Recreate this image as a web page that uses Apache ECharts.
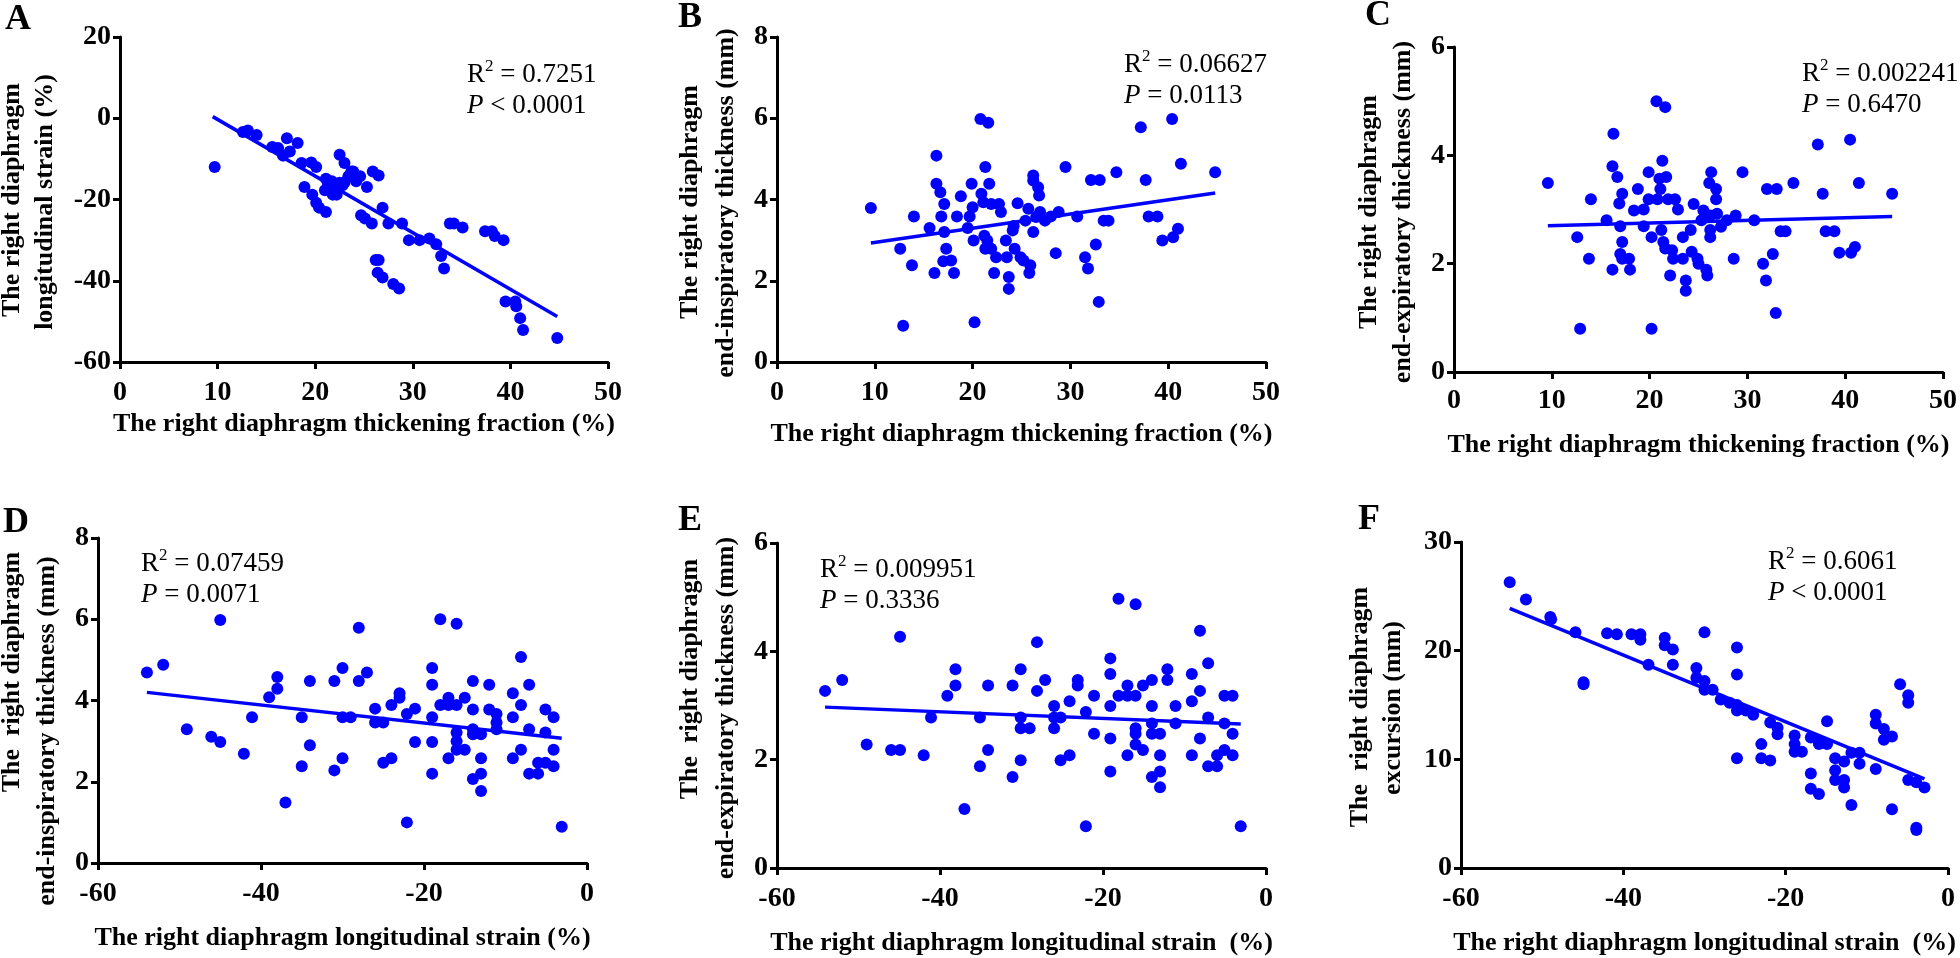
<!DOCTYPE html>
<html>
<head>
<meta charset="utf-8">
<script src="https://cdn.jsdelivr.net/npm/echarts@6/dist/echarts.min.js"></script>
<style>
html,body{margin:0;padding:0;background:#fff;}
#chart{width:1960px;height:958px;}
</style>
</head>
<body>
<div id="chart"></div>
<script>
// ---- Data ----
// Panel A: thickening fraction (%) vs longitudinal strain (%)
const ptsA = [[9.7,-12.0],[12.6,-3.4],[13.1,-3.0],[14.0,-4.1],[15.6,-7.1],[16.2,-7.3],[16.7,-9.2],[17.1,-4.9],[17.4,-8.2],[18.2,-6.1],[18.6,-11.0],[19.6,-10.9],[20.1,-12.0],[18.9,-16.9],[19.7,-18.8],[20.1,-20.8],[20.4,-22.0],[21.1,-23.1],[21.1,-14.9],[21.0,-17.7],[21.5,-16.7],[21.8,-18.8],[22.2,-18.8],[22.5,-15.9],[23.0,-15.8],[23.4,-14.3],[23.9,-13.1],[24.6,-14.3],[25.3,-16.9],[22.5,-9.0],[23.0,-11.0],[23.7,-13.1],[25.9,-13.1],[26.5,-14.1],[26.9,-22.0],[24.7,-23.9],[25.1,-24.7],[25.8,-25.9],[27.5,-25.9],[28.9,-25.9],[29.6,-30.0],[30.7,-30.0],[31.7,-29.6],[32.4,-31.0],[32.9,-33.9],[33.2,-37.0],[33.8,-25.9],[34.2,-25.9],[35.1,-26.9],[37.4,-27.8],[38.1,-27.8],[38.4,-29.0],[39.3,-30.0],[26.2,-34.9],[26.5,-34.9],[26.4,-38.0],[26.9,-39.2],[28.0,-40.8],[28.6,-41.9],[39.5,-45.1],[40.5,-45.1],[40.6,-46.3],[41.0,-49.2],[41.3,-52.1],[44.8,-54.1],[21.3,-16.0],[22.0,-17.5],[21.7,-15.5],[22.8,-16.5],[24.2,-15.5]];
const fitA = [[9.5,0.4],[44.8,-48.8]];

// Panel B: thickening fraction (%) vs end-inspiratory thickness (mm)
const ptsB = [[9.6,3.79],[12.6,2.79],[12.9,0.89],[13.8,2.38],[14.0,3.58],[15.6,3.30],[16.1,2.19],[16.3,5.08],[16.3,4.39],[16.7,4.18],[16.8,3.58],[17.1,3.89],[17.1,3.20],[17.3,2.79],[17.0,2.48],[17.8,2.50],[18.1,2.19],[18.4,3.58],[18.8,4.08],[19.5,3.30],[19.7,3.58],[19.9,4.39],[20.0,3.81],[20.1,2.99],[20.2,0.98],[20.8,5.98],[21.6,5.89],[20.9,4.14],[21.1,3.93],[21.3,4.80],[21.7,4.39],[21.2,3.11],[21.5,2.99],[21.3,2.79],[21.9,2.79],[22.2,2.19],[22.4,2.58],[21.9,3.89],[22.7,3.89],[22.9,3.69],[23.4,2.99],[23.5,2.58],[23.7,2.09],[23.7,1.80],[24.1,3.24],[24.3,2.79],[24.6,3.91],[24.9,2.58],[25.2,2.50],[25.4,3.48],[25.7,3.77],[25.9,2.38],[25.8,2.19],[26.2,4.59],[26.2,4.47],[26.2,3.20],[26.7,4.30],[26.8,4.10],[26.5,3.57],[26.9,3.69],[27.4,3.48],[28.0,3.58],[28.5,2.68],[28.8,3.69],[29.5,4.80],[30.7,3.58],[31.5,2.58],[31.8,2.30],[32.1,4.48],[33.0,4.48],[32.6,2.89],[32.9,1.48],[33.4,3.48],[33.9,3.48],[34.7,4.67],[37.2,5.78],[37.7,4.48],[38.0,3.58],[38.9,3.58],[39.4,2.99],[40.4,5.98],[40.5,3.07],[41.0,3.28],[41.3,4.88],[44.8,4.67],[24.2,3.35]];
const fitB = [[9.6,2.93],[44.8,4.16]];

// Panel C: thickening fraction (%) vs end-expiratory thickness (mm)
const ptsC = [[9.6,3.49],[12.6,2.49],[12.9,0.80],[13.8,2.09],[14.0,3.19],[15.6,2.80],[16.2,1.89],[16.3,4.40],[16.2,3.80],[16.7,3.60],[17.0,2.69],[17.2,3.29],[16.9,3.11],[17.2,2.40],[17.0,2.18],[17.2,2.09],[17.9,2.09],[18.0,1.89],[18.4,2.98],[18.8,3.38],[19.4,3.00],[19.4,2.69],[19.9,3.69],[19.9,3.19],[20.2,2.49],[20.2,0.80],[20.7,5.00],[21.6,4.89],[21.3,3.90],[21.0,3.57],[21.1,3.38],[20.8,3.19],[21.2,2.62],[21.7,3.60],[21.4,2.40],[21.6,2.28],[21.9,3.19],[22.1,1.78],[22.3,2.25],[22.4,2.09],[22.6,3.19],[22.9,3.00],[23.4,2.49],[23.4,2.09],[23.7,1.69],[23.7,1.50],[24.2,2.62],[24.3,2.22],[24.5,3.10],[24.9,2.09],[25.0,2.00],[25.3,2.80],[25.5,2.98],[25.8,1.89],[25.9,1.78],[26.1,3.49],[26.3,3.69],[26.2,2.89],[26.2,2.49],[26.2,2.62],[26.8,3.38],[26.8,3.19],[26.9,2.92],[27.3,2.68],[27.9,2.80],[28.6,2.09],[28.8,2.89],[29.5,3.69],[30.7,2.80],[31.6,2.00],[31.9,1.69],[32.6,2.18],[32.0,3.38],[33.0,3.38],[32.9,1.09],[33.4,2.60],[33.9,2.60],[34.7,3.49],[37.2,4.20],[37.7,3.29],[38.0,2.60],[38.9,2.60],[39.4,2.20],[40.5,4.29],[40.6,2.20],[41.0,2.31],[41.4,3.49],[44.8,3.29]];
const fitC = [[9.6,2.70],[44.8,2.87]];

// Panel D: longitudinal strain (%) vs end-inspiratory thickness (mm)
const ptsD = [[-54.0,4.69],[-52.0,4.88],[-49.1,3.29],[-46.1,3.11],[-45.0,5.98],[-45.0,2.98],[-42.1,2.69],[-41.1,3.59],[-39.0,4.08],[-38.0,4.29],[-38.0,4.58],[-37.0,1.49],[-35.0,3.59],[-35.0,2.38],[-34.0,4.48],[-34.0,2.90],[-31.0,4.48],[-31.0,2.28],[-30.0,4.80],[-30.0,3.59],[-30.0,2.58],[-29.0,3.59],[-28.0,5.79],[-28.0,4.48],[-27.0,4.69],[-26.0,3.80],[-26.0,3.46],[-25.0,3.46],[-25.0,2.47],[-24.0,3.89],[-24.0,2.58],[-23.0,4.18],[-23.0,4.07],[-22.1,3.67],[-22.1,1.00],[-21.1,3.80],[-21.1,2.98],[-19.0,4.80],[-19.0,4.39],[-19.0,3.59],[-19.0,2.98],[-19.0,2.20],[-18.0,6.00],[-18.0,3.89],[-17.0,4.07],[-17.0,3.89],[-17.0,2.58],[-16.0,5.89],[-16.0,3.89],[-16.0,3.21],[-16.0,3.00],[-16.0,2.79],[-15.0,4.07],[-15.0,2.79],[-14.0,4.48],[-14.0,3.78],[-14.0,3.29],[-14.0,3.17],[-14.0,2.07],[-13.0,3.17],[-13.0,2.58],[-13.0,2.20],[-13.0,1.77],[-12.0,4.39],[-12.0,3.78],[-11.1,3.67],[-11.1,3.46],[-11.1,3.29],[-9.1,4.18],[-9.1,3.59],[-9.1,2.58],[-8.1,5.07],[-8.1,3.89],[-8.1,2.79],[-7.1,4.39],[-7.1,3.29],[-7.1,2.20],[-6.0,2.20],[-6.0,2.47],[-5.1,3.78],[-5.1,3.21],[-5.1,2.47],[-4.1,3.59],[-4.1,2.79],[-4.1,2.38],[-3.1,0.89]];
const fitD = [[-54.0,4.20],[-3.1,3.07]];

// Panel E: longitudinal strain (%) vs end-expiratory thickness (mm)
const ptsE = [[-54.1,3.27],[-52.0,3.47],[-49.0,2.28],[-46.0,2.18],[-44.9,2.18],[-44.9,4.27],[-42.0,2.08],[-41.1,2.78],[-39.1,3.18],[-38.1,3.37],[-38.1,3.67],[-37.0,1.09],[-35.1,2.78],[-35.1,1.88],[-34.1,3.37],[-34.1,2.18],[-31.1,1.68],[-31.1,3.37],[-30.1,3.67],[-30.1,2.78],[-30.1,2.58],[-30.1,1.99],[-29.0,2.58],[-28.1,4.17],[-28.1,3.27],[-27.1,3.47],[-26.0,2.99],[-26.0,2.78],[-26.0,2.58],[-25.2,2.78],[-25.2,1.99],[-24.1,3.08],[-24.1,2.08],[-23.1,3.47],[-23.1,3.37],[-22.1,2.88],[-22.1,0.77],[-21.1,3.18],[-21.1,2.48],[-19.1,3.87],[-19.1,3.58],[-19.1,2.99],[-19.1,2.39],[-19.1,1.78],[-18.1,4.97],[-18.1,3.18],[-17.0,3.37],[-17.0,3.18],[-17.0,2.08],[-16.0,4.87],[-16.0,3.18],[-16.0,2.58],[-16.0,2.48],[-16.0,2.28],[-15.1,3.37],[-15.1,2.18],[-14.0,3.47],[-14.0,2.99],[-14.0,2.67],[-14.0,2.48],[-14.0,1.68],[-13.0,2.48],[-13.0,2.08],[-13.0,1.78],[-13.0,1.49],[-12.1,3.67],[-12.1,3.47],[-11.1,2.99],[-11.1,2.67],[-9.1,3.58],[-9.1,3.08],[-9.1,2.08],[-8.1,4.38],[-8.1,3.27],[-8.1,2.39],[-7.1,3.78],[-7.1,2.78],[-7.1,1.88],[-6.0,1.88],[-6.0,2.08],[-5.1,3.18],[-5.1,2.67],[-5.1,2.18],[-4.1,3.18],[-4.1,2.48],[-4.1,2.08],[-3.1,0.77]];
const fitE = [[-54.1,2.97],[-3.1,2.66]];

// Panel F: longitudinal strain (%) vs excursion (mm)
const ptsF = [[-54.0,26.3],[-52.0,24.7],[-49.0,23.1],[-48.9,22.9],[-45.9,21.7],[-44.9,16.9],[-44.9,17.1],[-42.0,21.6],[-40.8,21.5],[-39.0,21.5],[-37.9,21.5],[-37.9,21.0],[-36.9,18.7],[-34.9,21.2],[-34.9,20.5],[-33.9,20.1],[-33.9,18.7],[-31.0,18.4],[-31.0,17.5],[-30.0,21.7],[-30.0,17.2],[-30.0,16.4],[-29.0,16.4],[-28.0,15.5],[-26.9,15.2],[-26.0,20.3],[-26.0,17.8],[-26.0,15.0],[-26.0,14.5],[-26.0,10.1],[-24.9,14.5],[-24.0,14.1],[-23.0,11.4],[-23.0,10.1],[-21.9,13.4],[-21.9,9.9],[-21.0,12.9],[-21.0,12.3],[-18.9,12.2],[-18.9,11.4],[-18.9,10.7],[-18.0,10.7],[-16.9,12.0],[-16.9,8.7],[-16.9,7.3],[-15.9,11.7],[-15.9,11.4],[-15.9,6.8],[-14.9,13.5],[-14.9,11.4],[-13.9,10.1],[-13.9,9.0],[-13.9,8.1],[-12.8,9.8],[-12.8,8.1],[-12.8,7.4],[-11.9,10.6],[-11.9,5.8],[-10.9,10.6],[-10.9,9.6],[-8.9,14.1],[-8.9,13.3],[-8.9,9.1],[-7.9,12.8],[-7.9,11.8],[-6.9,12.1],[-6.9,5.4],[-5.9,16.9],[-4.9,15.9],[-4.9,15.2],[-4.9,8.1],[-3.9,7.9],[-3.9,3.5],[-3.9,3.7],[-2.9,7.4]];
const fitF = [[-54.0,23.9],[-2.9,8.2]];

// Axis ranges / ticks
const xRangeTF = {min:0, max:50, interval:10};
const xRangeLS = {min:-60, max:0, interval:20};
const yRanges = [
  {min:-60, max:20, interval:20},
  {min:0, max:8, interval:2},
  {min:0, max:6, interval:2},
  {min:0, max:8, interval:2},
  {min:0, max:6, interval:2},
  {min:0, max:30, interval:10}
];

// Texts
const panelLetters = ['A','B','C','D','E','F'];
const xTitles = [
  'The right diaphragm thickening fraction (%)',
  'The right diaphragm thickening fraction (%)',
  'The right diaphragm thickening fraction (%)',
  'The right diaphragm longitudinal strain (%)',
  'The right diaphragm longitudinal strain  (%)',
  'The right diaphragm longitudinal strain  (%)'
];
const yTitles = [
  ['The right diaphragm','longitudinal strain (%)'],
  ['The right diaphragm','end-inspiratory thickness (mm)'],
  ['The right diaphragm','end-expiratory thickness (mm)'],
  ['The  right diaphragm','end-inspiratory thickness (mm)'],
  ['The  right diaphragm','end-expiratory thickness (mm)'],
  ['The  right diaphragm','excursion (mm)']
];
const r2Texts = ['0.7251','0.06627','0.002241','0.07459','0.009951','0.6061'];
const pTexts = ['< 0.0001','= 0.0113','= 0.6470','= 0.0071','= 0.3336','< 0.0001'];

// ---- Layout (pixels) ----
const grids = [
  {left:120, top:37, width:488, height:325},
  {left:777, top:37, width:489, height:325},
  {left:1454, top:47, width:490, height:325},
  {left:98, top:538, width:489, height:325},
  {left:777, top:543, width:489, height:325},
  {left:1461, top:542, width:487, height:326}
];
const xNameGaps = [49, 59, 60, 62, 62, 62];
const xLabelMargins = [17, 17, 15, 17, 17, 17];
const yTitlePos = [
  [[12,200],[45,202]],
  [[690,202],[726,203]],
  [[1369,212],[1403,212]],
  [[12,672],[47,731]],
  [[690,679],[726,708]],
  [[1360,707],[1393,708]]
];
const annotPos = [[467,75],[1124,65],[1802,74],[141,564],[820,570],[1768,562]];
const letterPos = [[18,20],[690,18],[1378,16],[16,523],[690,521],[1369,520]];

const FONT = 'Liberation Serif';
const BLUE = '#0000ff';
const allPts = [ptsA, ptsB, ptsC, ptsD, ptsE, ptsF];
const allFits = [fitA, fitB, fitC, fitD, fitE, fitF];

const xAxes = [], yAxes = [], series = [], graphics = [];
for (let i = 0; i < 6; i++) {
  const xr = i < 3 ? xRangeTF : xRangeLS;
  xAxes.push({
    type:'value', gridIndex:i, min:xr.min, max:xr.max, interval:xr.interval,
    name:xTitles[i], nameLocation:'middle', nameGap:xNameGaps[i],
    nameTextStyle:{fontFamily:FONT, fontWeight:'bold', fontSize:26, color:'#000'},
    axisLine:{onZero:false, lineStyle:{color:'#000', width:3}},
    axisTick:{show:true, length:7, lineStyle:{color:'#000', width:3}},
    axisLabel:{fontFamily:FONT, fontWeight:'bold', fontSize:28, color:'#000', margin:xLabelMargins[i]},
    splitLine:{show:false}
  });
  const yr = yRanges[i];
  yAxes.push({
    type:'value', gridIndex:i, min:yr.min, max:yr.max, interval:yr.interval,
    axisLine:{show:true, onZero:false, lineStyle:{color:'#000', width:3}},
    axisTick:{show:true, length:7, lineStyle:{color:'#000', width:3}},
    axisLabel:{fontFamily:FONT, fontWeight:'bold', fontSize:28, color:'#000', margin:9},
    splitLine:{show:false}
  });
  series.push({
    type:'scatter', xAxisIndex:i, yAxisIndex:i, data:allPts[i],
    symbol:'circle', symbolSize:12, itemStyle:{color:BLUE, opacity:1}, z:3
  });
  series.push({
    type:'line', xAxisIndex:i, yAxisIndex:i, data:allFits[i],
    showSymbol:false, symbol:'none', lineStyle:{color:BLUE, width:3.5}, z:2
  });
  for (let k = 0; k < 2; k++) {
    graphics.push({
      type:'text', x:yTitlePos[i][k][0], y:yTitlePos[i][k][1], rotation:Math.PI/2,
      style:{text:yTitles[i][k], font:'bold 26px "' + FONT + '"', fill:'#000',
             align:'center', verticalAlign:'middle'}
    });
  }
  graphics.push({
    type:'text', x:letterPos[i][0], y:letterPos[i][1],
    style:{text:panelLetters[i], font:'bold 36px "' + FONT + '"', fill:'#000',
           align:'center', verticalAlign:'middle'}
  });
  graphics.push({
    type:'text', x:annotPos[i][0], y:annotPos[i][1],
    style:{text:'{r|R}{s|2}{r| = ' + r2Texts[i] + '}', fill:'#000', align:'left', verticalAlign:'middle',
      rich:{
        r:{fontFamily:FONT, fontSize:27, fill:'#000'},
        s:{fontFamily:FONT, fontSize:17, fill:'#000', padding:[0,0,16,0]}
      }}
  });
  graphics.push({
    type:'text', x:annotPos[i][0], y:annotPos[i][1] + 31,
    style:{text:'{i|P}{r| ' + pTexts[i] + '}', fill:'#000', align:'left', verticalAlign:'middle',
      rich:{
        r:{fontFamily:FONT, fontSize:27, fill:'#000'},
        i:{fontFamily:FONT, fontSize:27, fontStyle:'italic', fill:'#000'}
      }}
  });
}

const chart = echarts.init(document.getElementById('chart'), null, {renderer:'canvas'});
chart.setOption({
  backgroundColor:'#fff',
  animation:false,
  grid:grids,
  xAxis:xAxes,
  yAxis:yAxes,
  series:series,
  graphic:graphics
});
</script>
</body>
</html>
